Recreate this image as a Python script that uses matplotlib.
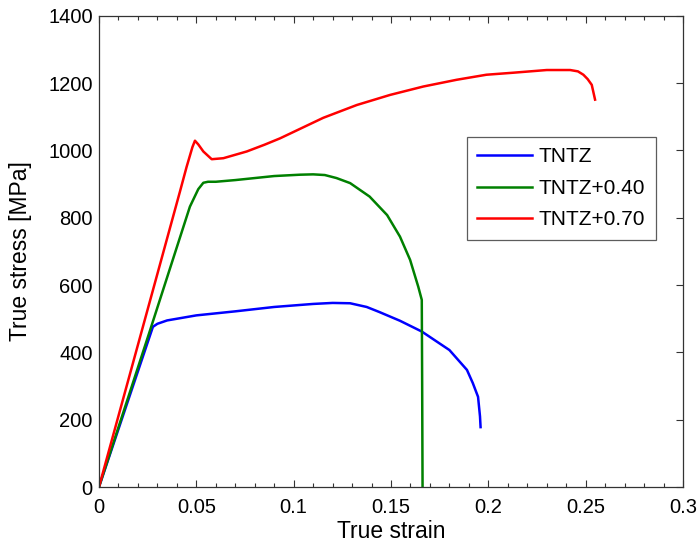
import matplotlib
matplotlib.use("Agg")
import matplotlib.pyplot as plt
from matplotlib.ticker import MultipleLocator

plt.rcParams['font.family'] = ['Liberation Sans', 'DejaVu Sans']

# TNTZ (blue)
tntz_strain = [0.0, 0.0277, 0.030, 0.035, 0.040, 0.050, 0.070, 0.090, 0.110, 0.120, 0.129,
               0.1375, 0.144, 0.1546, 0.1658, 0.180, 0.189, 0.192, 0.1947, 0.1957, 0.1960]
tntz_stress = [0, 476, 485, 495, 500, 510, 522, 535, 544, 547, 546,
               535, 520, 494, 462, 407, 348, 309, 268, 210, 178]

# TNTZ+0.40 (green)
tntz40_strain = [0.0, 0.0257, 0.0467, 0.0510, 0.0536, 0.0560, 0.060, 0.070, 0.080, 0.090, 0.1033, 0.110, 0.116,
                 0.122, 0.129, 0.139, 0.148, 0.1546, 0.1598, 0.164, 0.1658, 0.1660, 0.1662]
tntz40_stress = [0, 456, 833, 885, 904, 907, 907, 912, 918, 924, 928, 929, 927,
                 918, 903, 863, 808, 744, 675, 595, 556, 300, 0]

# TNTZ+0.70 (red)
tntz70_strain = [0.0, 0.0416, 0.0450, 0.0480, 0.0493, 0.0510, 0.0536, 0.0579, 0.0639, 0.0759, 0.085,
                 0.093, 0.0981, 0.1152, 0.1324, 0.1495, 0.1666, 0.1837, 0.1990, 0.2128, 0.230,
                 0.242, 0.2460, 0.2488, 0.2510, 0.2531, 0.2548]
tntz70_stress = [0, 878, 951, 1010, 1029, 1018, 997, 974, 977, 997, 1017,
                 1036, 1050, 1097, 1135, 1165, 1190, 1210, 1225, 1231, 1239,
                 1239, 1235, 1225, 1212, 1195, 1151]

labels = ['TNTZ', 'TNTZ+0.40', 'TNTZ+0.70']
colors = ['#0000ff', '#008000', '#ff0000']

xticks = [0, 0.05, 0.1, 0.15, 0.2, 0.25, 0.3]
xticklabels = ['0', '0.05', '0.1', '0.15', '0.2', '0.25', '0.3']
yticks = [0, 200, 400, 600, 800, 1000, 1200, 1400]

fig = plt.figure(figsize=(6.97, 5.46), dpi=100)
ax = fig.add_axes([0.142, 0.108, 0.838, 0.863])

for xs, ys, lab, c in zip([tntz_strain, tntz40_strain, tntz70_strain],
                          [tntz_stress, tntz40_stress, tntz70_stress], labels, colors):
    ax.plot(xs, ys, color=c, lw=1.8, label=lab)

ax.set_xlim(0, 0.3)
ax.set_ylim(0, 1400)
ax.set_xticks(xticks)
ax.set_xticklabels(xticklabels)
ax.set_yticks(yticks)
ax.xaxis.set_minor_locator(MultipleLocator(0.01))
ax.tick_params(which='both', direction='in', top=True, right=True, left=False,
               labelsize=14.5, width=0.8, color='#333333')
ax.tick_params(axis='x', which='major', length=5, pad=8)
ax.tick_params(axis='y', which='major', length=5, pad=4.5)
ax.tick_params(which='minor', length=3)
for s in ax.spines.values():
    s.set_color('#333333')
    s.set_linewidth(0.9)

ax.set_xlabel('True strain', fontsize=16.5, labelpad=2)
ax.set_ylabel('True stress [MPa]', fontsize=16.5, labelpad=11.5)

leg = ax.legend(loc='upper left', bbox_to_anchor=(0.630, 0.743), fontsize=15,
                frameon=True, fancybox=False, handlelength=2.6, borderpad=0.5,
                labelspacing=0.6, handletextpad=0.35, borderaxespad=0)
leg.get_frame().set_edgecolor('#333333')
leg.get_frame().set_linewidth(0.9)

fig.savefig('out.png', dpi=100)
